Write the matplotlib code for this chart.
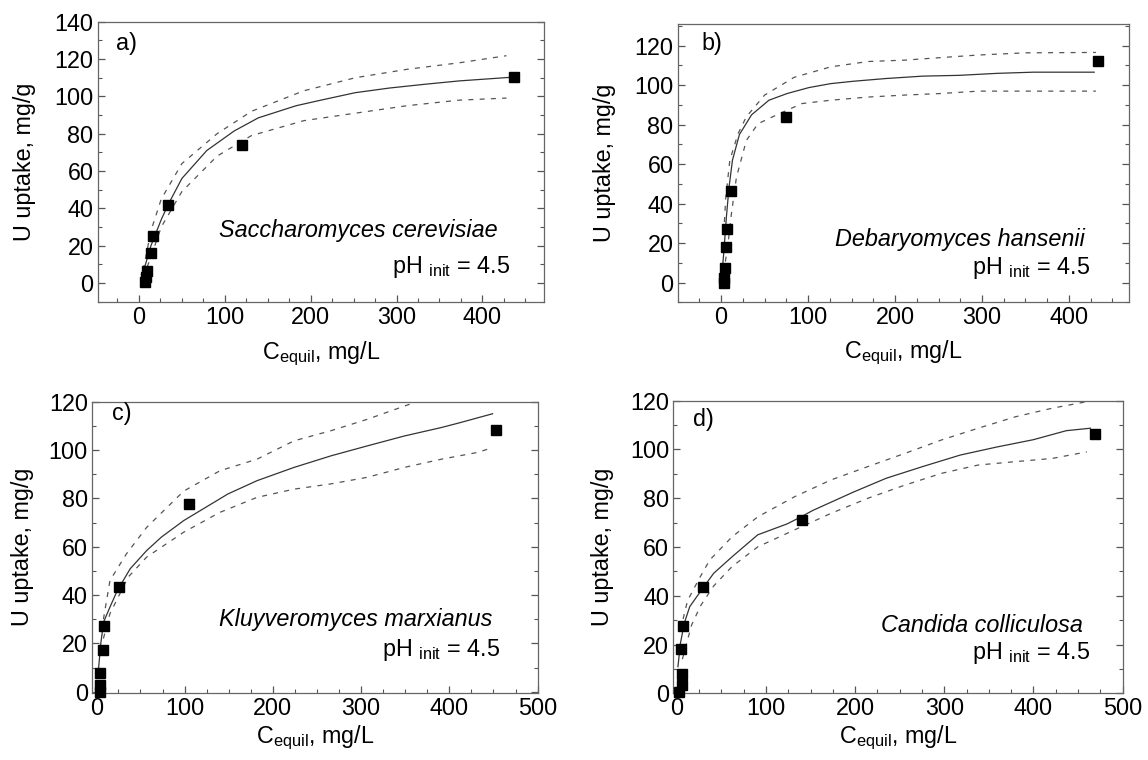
import numpy as np
import matplotlib
matplotlib.use("Agg")
import matplotlib.pyplot as plt
from matplotlib.ticker import MultipleLocator

plt.rcParams['font.family'] = ['Liberation Sans', 'DejaVu Sans']
plt.rcParams['mathtext.fontset'] = 'custom'
plt.rcParams['mathtext.rm'] = 'Liberation Sans'
plt.rcParams['mathtext.it'] = 'Liberation Sans:italic'

FS = 16.8

# a) Saccharomyces cerevisiae
a_x = [7, 8.6, 9.4, 13.8, 16.4, 34.3, 119.6, 437]
a_y = [0.3, 3.0, 6.6, 16.2, 25.1, 41.6, 74.1, 110.5]
a_fit_x = [3, 7, 14, 26, 34, 50, 79, 111, 139, 183, 212, 252, 292, 333, 373, 432]
a_fit_y = [4.5, 9, 20, 34, 42, 56, 71, 81.5, 88.5, 95, 98, 102, 104.5, 106.5, 108.3, 110.2]
a_up_x = [5, 14, 26, 50, 91, 131, 192, 252, 312, 373, 428]
a_up_y = [7, 28, 45, 64, 80, 92, 103, 110, 114.5, 118, 121.8]
a_lo_x = [5, 14, 26, 50, 91, 131, 192, 252, 312, 373, 428]
a_lo_y = [3, 14, 30, 49, 68, 79, 87, 91, 95, 98, 99.1]

# b) Debaryomyces hansenii
b_x = [3, 3, 4.5, 5.3, 7.2, 11.8, 74.9, 433]
b_y = [0, 2.5, 7.6, 17.8, 27, 46.5, 84.1, 112.2]
b_fit_x = [0.5, 3, 6, 9, 13, 21, 35, 55, 76, 101, 126, 152, 190, 232, 274, 317, 359, 429]
b_fit_y = [2, 15, 33, 48, 62, 75, 85, 92.4, 95.8, 98.8, 100.8, 102, 103.4, 104.6, 105, 106, 106.6, 106.6]
b_up_x = [3, 5.3, 10, 19.4, 29, 50, 84, 126, 169, 211, 253, 296, 350, 431]
b_up_y = [25, 43, 62, 75.4, 84, 95, 104, 109.3, 112, 112.7, 114, 115.3, 116.4, 116.6]
b_lo_x = [3, 8, 11.8, 17.6, 29, 42.4, 67, 93, 126, 169, 211, 253, 296, 431]
b_lo_y = [5, 20, 34.8, 53.4, 72, 80.5, 85.6, 90.7, 92.4, 94, 95, 95.8, 97, 97]

# c) Kluyveromyces marxianus
c_x = [4.2, 4.2, 4.2, 7.1, 9.2, 25.9, 105, 452.5]
c_y = [0, 2.7, 7.8, 17.2, 27.1, 43.3, 77.7, 108.3]
c_fit_x = [2, 5, 8.3, 15.4, 23.8, 38.4, 57, 73.8, 99, 124, 149, 182, 224, 266, 307, 349, 391, 412, 449]
c_fit_y = [7.6, 20, 28.9, 35, 41.9, 50.9, 58.4, 64, 70.8, 76.3, 81.8, 87.3, 92.8, 97.6, 101.7, 105.8, 109.3, 111.3, 115]
c_up_x = [8, 15.4, 34, 57, 99, 140, 182, 224, 266, 307, 357, 370]
c_up_y = [30, 46, 57, 68, 83, 91.4, 96.2, 103.8, 108, 112.7, 119.2, 121]
c_lo_x = [8, 15.4, 36, 57, 99, 140, 182, 224, 266, 307, 349, 391, 432, 449]
c_lo_y = [22, 32.3, 47.4, 55.7, 66, 74.2, 80.4, 83.8, 86, 88.7, 92.8, 96.2, 99, 101]

# d) Candida colliculosa
d_x = [2.9, 5.4, 5.4, 5, 7.4, 29.7, 140, 468.6]
d_y = [0.4, 3.4, 7.9, 18, 27.6, 43.5, 71, 106.3]
d_fit_x = [1.2, 4, 8.3, 14.4, 28.9, 41.3, 62, 90.8, 124, 140, 152.6, 198, 235, 276, 318, 359, 400, 437, 464]
d_fit_y = [10.9, 20.5, 28.7, 35.5, 43, 49.2, 56, 65, 69.5, 72.5, 75, 82.5, 88.2, 93, 97.7, 101, 104, 107.7, 108.7]
d_up_x = [4, 12, 25, 37, 62, 91, 132, 173, 214.5, 256, 297, 338, 380, 421, 460]
d_up_y = [26, 38, 47, 54.7, 64.2, 72.4, 80.6, 87.5, 93, 98.4, 103.9, 108.7, 113.4, 116.9, 119.6]
d_lo_x = [6.2, 16.5, 26.8, 41.3, 62, 91, 132, 173, 214.5, 256, 297, 338, 380, 421, 460]
d_lo_y = [14, 28, 36, 44, 52, 60.1, 67, 73.8, 80, 85.4, 90.2, 93.6, 95, 96.3, 99]

letters = ['a)', 'b)', 'c)', 'd)']
species = ['Saccharomyces cerevisiae', 'Debaryomyces hansenii',
           'Kluyveromyces marxianus', 'Candida colliculosa']

fig = plt.figure(figsize=(11.48, 7.6), dpi=100)

panels = [
    # rect, limits, text positions (axes fraction), label positions
    dict(rect=[0.0851, 0.603, 0.389, 0.3684], xlim=(-48, 472), ylim=(-10, 140), ymax=140,
         let=(0.065, 0.923), sp=(0.896, 0.256), ph=(0.925, 0.125), ylx=-0.163, xly=-0.205,
         data=(a_x, a_y, a_fit_x, a_fit_y, a_up_x, a_up_y, a_lo_x, a_lo_y)),
    dict(rect=[0.5903, 0.6022, 0.3931, 0.3662], xlim=(-50, 469), ylim=(-10, 131), ymax=120,
         let=(0.076, 0.931), sp=(0.9025, 0.224), ph=(0.914, 0.122), ylx=-0.162, xly=-0.200,
         data=(b_x, b_y, b_fit_x, b_fit_y, b_up_x, b_up_y, b_lo_x, b_lo_y)),
    dict(rect=[0.0801, 0.0886, 0.3882, 0.3829], xlim=(-5, 500), ylim=(-0.4, 120), ymax=120,
         let=(0.066, 0.96), sp=(0.899, 0.25), ph=(0.917, 0.147), ylx=-0.155, xly=-0.172,
         data=(c_x, c_y, c_fit_x, c_fit_y, c_up_x, c_up_y, c_lo_x, c_lo_y)),
    dict(rect=[0.5865, 0.0878, 0.3913, 0.385], xlim=(-4, 500), ylim=(0, 120), ymax=120,
         let=(0.067, 0.934), sp=(0.9125, 0.233), ph=(0.929, 0.137), ylx=-0.158, xly=-0.169,
         data=(d_x, d_y, d_fit_x, d_fit_y, d_up_x, d_up_y, d_lo_x, d_lo_y)),
]

for i, p in enumerate(panels):
    ax = fig.add_axes(p['rect'])
    x, y, fx, fy, ux, uy, lx, ly = p['data']
    ax.plot(ux, uy, color='#555555', lw=0.9, dashes=(4, 5))
    ax.plot(lx, ly, color='#555555', lw=0.9, dashes=(4, 5))
    ax.plot(fx, fy, color='#333333', lw=0.9)
    ax.plot(x, y, 's', color='black', ms=7.5, clip_on=False, zorder=5)

    ax.set_xlim(p['xlim'])
    ax.set_ylim(p['ylim'])
    ax.set_yticks(np.arange(0, p['ymax'] + 1, 20))
    ax.xaxis.set_major_locator(MultipleLocator(100))
    ax.xaxis.set_minor_locator(MultipleLocator(25))
    ax.yaxis.set_minor_locator(MultipleLocator(10))
    ax.tick_params(which='both', direction='in', right=True, top=False,
                   labelsize=FS, color='#555555', pad=3)
    ax.tick_params(which='major', length=5, width=0.9)
    ax.tick_params(which='minor', length=3, width=0.8)
    for s in ax.spines.values():
        s.set_color('#666666')
        s.set_linewidth(0.9)

    ax.set_ylabel('U uptake, mg/g', fontsize=FS)
    ax.yaxis.set_label_coords(p['ylx'], 0.5)
    ax.yaxis.label.set_va('center')
    ax.set_xlabel(r'C$_{\mathrm{equil}}$, mg/L', fontsize=FS)
    ax.xaxis.set_label_coords(0.5, p['xly'])
    ax.xaxis.label.set_va('baseline')

    ax.text(p['let'][0], p['let'][1], letters[i], transform=ax.transAxes,
            fontsize=FS, ha='center', va='center')
    ax.text(p['sp'][0], p['sp'][1], species[i], transform=ax.transAxes,
            fontsize=FS, style='italic', ha='right', va='center')
    ax.text(p['ph'][0], p['ph'][1], r'pH $_{\mathrm{init}}$ = 4.5', transform=ax.transAxes,
            fontsize=FS, ha='right', va='center')

fig.savefig('out.png', dpi=100)
